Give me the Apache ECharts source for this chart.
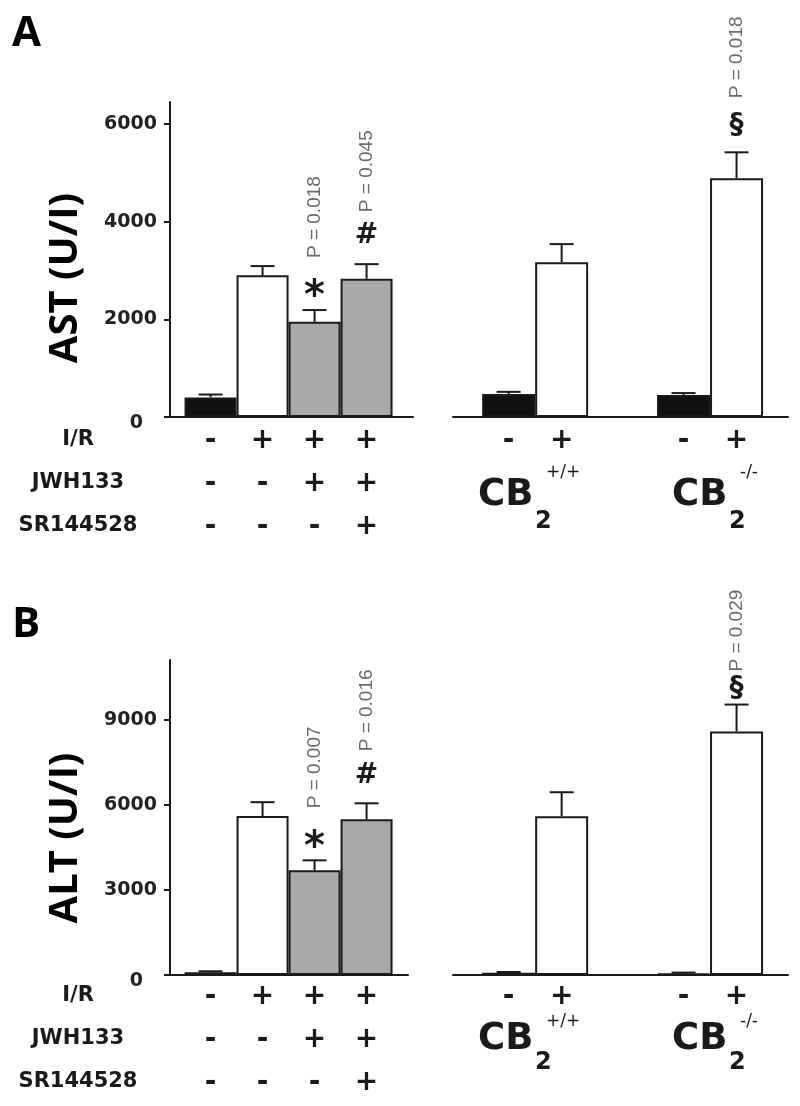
<!DOCTYPE html>
<html>
<head>
<meta charset="utf-8">
<script src="https://cdn.jsdelivr.net/npm/echarts@6/dist/echarts.min.js"></script>
<style>
  html, body { margin: 0; background: #fff; }
  #chart { width: 800px; height: 1106px; }
</style>
</head>
<body>
<div id="chart"></div>
<script>
// bar slots along the (value) x axis: left = treatment groups, right = genotypes
const drugSlots = [1, 2, 3, 4];
const geneSlots = [1, 2, 4.3, 5.3];

// treatment table under the left bars
const rowNames = ['I/R', 'JWH133', 'SR144528'];
const irRow = ['-', '+', '+', '+'];
const jwhRow = ['-', '-', '+', '+'];
const srRow = ['-', '-', '-', '+'];
const geneIrRow = ['-', '+', '-', '+'];
const genotypes = ['+/+', '-/-'];

// AST (U/I)
const astDrug = [400, 2900, 1950, 2830];
const astDrugErr = [60, 190, 240, 300];
const astGene = [470, 3170, 450, 4890];
const astGeneErr = [45, 370, 40, 530];
const astTicks = [0, 2000, 4000, 6000];

// ALT (U/I)
const altDrug = [100, 5600, 3690, 5490];
const altDrugErr = [30, 490, 350, 560];
const altGene = [80, 5590, 60, 8580];
const altGeneErr = [25, 850, 25, 950];
const altTicks = [0, 3000, 6000, 9000];

// significance marks
const astDrugMarks = ['', '', '*', '#'];
const astDrugP = ['', '', 'P = 0.018', 'P = 0.045'];
const astGeneMarks = ['', '', '', '§'];
const astGeneP = ['', '', '', 'P = 0.018'];
const altDrugMarks = ['', '', '*', '#'];
const altDrugP = ['', '', 'P = 0.007', 'P = 0.016'];
const altGeneMarks = ['', '', '', '§'];
const altGeneP = ['', '', '', 'P = 0.029'];

const drugFill = ['#111111', '#ffffff', '#a9a9a9', '#a9a9a9'];
const geneFill = ['#111111', '#ffffff', '#111111', '#ffffff'];

const INK = '#1a1a1a';
const BOLD_FONT = 'DejaVu Sans';
const TITLE_FONT = 'Open Sans';

const panels = [
  {
    letter: 'A', letterY: 34, title: 'AST (U/I)', titleY: 278,
    top: 102, leftWidth: 243, max: 6450, ticks: astTicks,
    drug: astDrug, drugErr: astDrugErr, drugMarks: astDrugMarks, drugP: astDrugP,
    gene: astGene, geneErr: astGeneErr, geneMarks: astGeneMarks, geneP: astGeneP,
    geneGaps: [27, 54],
    rowY: [440, 483, 526], rowMargin: 2,
    cbY: 495, subDy: 27, supDy: -22
  },
  {
    letter: 'B', letterY: 625, title: 'ALT (U/I)', titleY: 838,
    top: 660, leftWidth: 238, max: 11100, ticks: altTicks,
    drug: altDrug, drugErr: altDrugErr, drugMarks: altDrugMarks, drugP: altDrugP,
    gene: altGene, geneErr: altGeneErr, geneMarks: altGeneMarks, geneP: altGeneP,
    geneGaps: [16, 33],
    rowY: [996, 1039, 1082], rowMargin: 0,
    cbY: 1039, subDy: 24, supDy: -17
  }
];

const PANEL_H = 315;
const DRUG_UNIT = 52;   // px per slot, left grids
const GENE_UNIT = 53;   // px per slot, right grids

function errorSeries(xi, slots, vals, errs, marks, pvals, gaps) {
  const markGap = gaps ? gaps[0] : 28;
  const pGap = gaps ? gaps[1] : 52;
  return {
    type: 'custom',
    xAxisIndex: xi,
    yAxisIndex: xi,
    z: 5,
    data: slots.map((s, i) => [s, vals[i], vals[i] + errs[i]]),
    renderItem: (params, api) => {
      const i = params.dataIndex;
      const base = api.coord([api.value(0), api.value(1)]);
      const tip = api.coord([api.value(0), api.value(2)]);
      const line = { stroke: INK, lineWidth: 2 };
      const children = [
        { type: 'line', shape: { x1: base[0], y1: base[1], x2: tip[0], y2: tip[1] }, style: line },
        { type: 'line', shape: { x1: tip[0] - 12, y1: tip[1], x2: tip[0] + 12, y2: tip[1] }, style: line }
      ];
      if (marks[i]) {
        const star = marks[i] === '*';
        children.push({
          type: 'text', x: tip[0], y: tip[1] - (star ? 12 : markGap),
          style: {
            text: marks[i], align: 'center', verticalAlign: 'middle',
            font: `bold ${star ? 40 : 28}px "${BOLD_FONT}"`, fill: INK
          }
        });
        children.push({
          type: 'text', x: tip[0], y: tip[1] - pGap, rotation: Math.PI / 2,
          style: {
            text: pvals[i], align: 'left', verticalAlign: 'middle',
            font: '19px "Liberation Sans"', fill: '#6a6a6a'
          }
        });
      }
      return { type: 'group', children };
    }
  };
}

const grid = [], xAxis = [], yAxis = [], series = [], graphic = [];

panels.forEach((p) => {
  const li = grid.length;
  grid.push({ left: 170, top: p.top, width: p.leftWidth, height: PANEL_H });
  grid.push({ left: 453, top: p.top, width: 335, height: PANEL_H });

  const signStyle = {
    fontFamily: BOLD_FONT, fontWeight: 'bold', fontSize: 28,
    lineHeight: 43, color: INK, margin: p.rowMargin
  };
  xAxis.push({
    gridIndex: li, type: 'value', min: 0.22, max: 0.22 + p.leftWidth / DRUG_UNIT,
    axisLine: { lineStyle: { color: INK, width: 2 } },
    axisTick: { show: false }, splitLine: { show: false },
    axisLabel: Object.assign({
      customValues: drugSlots,
      formatter: (v) => {
        const i = drugSlots.indexOf(v);
        return [irRow[i], jwhRow[i], srRow[i]].join('\n');
      }
    }, signStyle)
  });
  xAxis.push({
    gridIndex: li + 1, type: 'value', min: -0.05, max: -0.05 + 335 / GENE_UNIT,
    axisLine: { onZero: false, lineStyle: { color: INK, width: 2 } },
    axisTick: { show: false }, splitLine: { show: false },
    axisLabel: Object.assign({
      customValues: geneSlots,
      formatter: (v) => geneIrRow[geneSlots.indexOf(v)]
    }, signStyle)
  });

  yAxis.push({
    gridIndex: li, type: 'value', min: 0, max: p.max,
    axisLine: { show: true, lineStyle: { color: INK, width: 2 } },
    axisTick: { show: true, length: 6, customValues: p.ticks, lineStyle: { color: INK, width: 2 } },
    splitLine: { show: false },
    axisLabel: {
      customValues: p.ticks, margin: 13,
      fontFamily: BOLD_FONT, fontWeight: 'bold', fontSize: 19, color: '#222',
      formatter: (v) => (v === 0 ? '{z|0}' : String(v)),
      rich: {
        z: { fontFamily: BOLD_FONT, fontWeight: 'bold', fontSize: 19, color: '#222', padding: [12, 14, 0, 0] }
      }
    }
  });
  yAxis.push({ gridIndex: li + 1, type: 'value', min: 0, max: p.max, show: false });

  series.push({
    type: 'bar', xAxisIndex: li, yAxisIndex: li, barWidth: DRUG_UNIT,
    itemStyle: { borderColor: INK, borderWidth: 2 },
    data: drugSlots.map((s, i) => ({ value: [s, p.drug[i]], itemStyle: { color: drugFill[i] } }))
  });
  series.push({
    type: 'bar', xAxisIndex: li + 1, yAxisIndex: li + 1, barWidth: GENE_UNIT,
    itemStyle: { borderColor: INK, borderWidth: 2 },
    data: geneSlots.map((s, i) => ({ value: [s, p.gene[i]], itemStyle: { color: geneFill[i] } }))
  });
  series.push(errorSeries(li, drugSlots, p.drug, p.drugErr, p.drugMarks, p.drugP));
  series.push(errorSeries(li + 1, geneSlots, p.gene, p.geneErr, p.geneMarks, p.geneP, p.geneGaps));

  // panel letter and axis title
  graphic.push({
    type: 'text', x: 12, y: p.letterY,
    style: { text: p.letter, font: `bold 42px "${TITLE_FONT}"`, fill: '#000', verticalAlign: 'middle' }
  });
  graphic.push({
    type: 'text', x: 66, y: p.titleY, rotation: Math.PI / 2,
    style: { text: p.title, font: `bold 40px "${TITLE_FONT}"`, fill: '#000', align: 'center', verticalAlign: 'middle' }
  });

  // treatment row headers
  rowNames.forEach((name, r) => {
    graphic.push({
      type: 'text', x: 78, y: p.rowY[r],
      style: { text: name, font: `bold 21px "${BOLD_FONT}"`, fill: INK, align: 'center', verticalAlign: 'middle' }
    });
  });

  // genotype labels
  [478, 672].forEach((x, g) => {
    graphic.push({
      type: 'group', x, y: p.cbY,
      children: [
        { type: 'text', x: 0, y: 0, style: { text: 'CB', font: `bold 37px "${BOLD_FONT}"`, fill: INK, verticalAlign: 'middle' } },
        { type: 'text', x: 57, y: p.subDy, style: { text: '2', font: `bold 24px "${BOLD_FONT}"`, fill: INK, verticalAlign: 'middle' } },
        { type: 'text', x: 68, y: p.supDy, style: { text: genotypes[g], font: `17px "${BOLD_FONT}"`, fill: INK, verticalAlign: 'middle' } }
      ]
    });
  });
});

const chart = echarts.init(document.getElementById('chart'), null, { renderer: 'canvas' });
chart.setOption({
  backgroundColor: '#fff',
  animation: false,
  grid, xAxis, yAxis, series, graphic
});
</script>
</body>
</html>
